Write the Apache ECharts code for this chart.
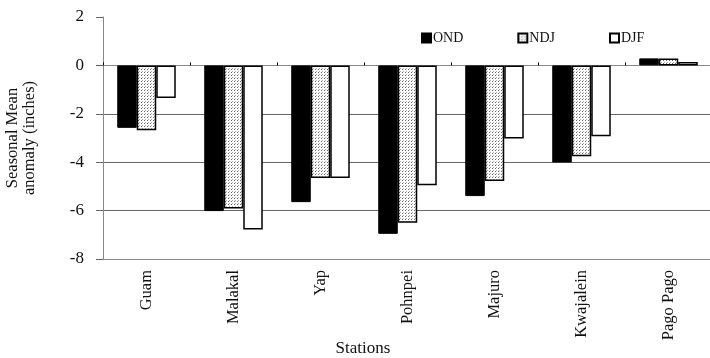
<!DOCTYPE html>
<html>
<head>
<meta charset="utf-8">
<script src="https://cdn.jsdelivr.net/npm/echarts@6/dist/echarts.min.js"></script>
<style>
  html, body { margin: 0; padding: 0; background: #fff; }
  #chart { width: 710px; height: 358px; }
</style>
</head>
<body>
<div id="chart"></div>
<script>
var stations = ['Guam', 'Malakal', 'Yap', 'Pohnpei', 'Majuro', 'Kwajalein', 'Pago Pago'];
var ond = [-2.58, -6.02, -5.65, -6.96, -5.4, -4.01, 0.29];
var ndj = [-2.68, -5.91, -4.65, -6.5, -4.78, -3.75, 0.29];
var djf = [-1.35, -6.78, -4.65, -4.95, -3.02, -2.93, 0.14];

// stipple fill for NDJ
function makeDots() {
	var c = document.createElement('canvas');
	c.width = 3; c.height = 3;
	var ctx = c.getContext('2d');
	ctx.fillStyle = '#fff';
	ctx.fillRect(0, 0, 3, 3);
	ctx.fillStyle = '#666';
	ctx.fillRect(0, 0, 1, 1);
	ctx.fillStyle = '#aaa';
	ctx.fillRect(1, 2, 1, 1);
	return c;
}
var dots = { image: makeDots(), repeat: 'repeat' };

var font = '"Liberation Serif", "Times New Roman", serif';
var chart = echarts.init(document.getElementById('chart'));

var option = {
	animation: false,
	textStyle: { fontFamily: font, color: '#111' },
	grid: { left: 103, top: 17, width: 609, height: 242, outerBoundsMode: 'none', containLabel: false },
	title: {
		text: 'Stations',
		left: 363, top: 340,
		padding: 0,
		textAlign: 'center',
		textStyle: { fontFamily: font, fontSize: 17, fontWeight: 'normal', color: '#111' }
	},
	legend: {
		left: 421, top: 31,
		padding: 0,
		itemWidth: 9, itemHeight: 9,
		itemGap: 54,
		icon: 'rect',
		textStyle: { fontFamily: font, fontSize: 14, color: '#111', padding: [0, 0, 0, -3] },
		data: ['OND', 'NDJ', 'DJF']
	},
	xAxis: [
		{
			type: 'category',
			data: stations,
			position: 'bottom',
			axisLine: { onZero: false, lineStyle: { color: '#888', width: 1 } },
			axisTick: { show: false },
			axisLabel: { rotate: 90, margin: 11, fontFamily: font, fontSize: 16.5, color: '#111' }
		},
		{
			type: 'category',
			data: stations,
			position: 'bottom',
			axisLine: { onZero: true, lineStyle: { color: '#888', width: 1 } },
			axisTick: { show: true, inside: true, length: 3, lineStyle: { color: '#000' } },
			axisLabel: { show: false }
		}
	],
	yAxis: {
		type: 'value',
		min: -8, max: 2, interval: 2,
		name: 'Seasonal Mean\nanomaly (inches)',
		nameLocation: 'middle',
		nameRotate: 90,
		nameGap: 65,
		nameTextStyle: { fontFamily: font, fontSize: 16.5, color: '#111', lineHeight: 17 },
		axisLine: { show: true, lineStyle: { color: '#888' } },
		axisTick: { show: true, length: 7, lineStyle: { color: '#666' } },
		axisLabel: { fontFamily: font, fontSize: 17, color: '#111', margin: 19 },
		splitLine: { show: true, showMinLine: false, showMaxLine: false, lineStyle: { color: '#666', width: 1 } }
	},
	series: [
		{
			name: 'OND', type: 'bar', data: ond, barWidth: 19.5, barGap: '0%',
			itemStyle: { color: '#000', borderColor: '#000', borderWidth: 1 }
		},
		{
			name: 'NDJ', type: 'bar', data: ndj, barWidth: 19.5, barGap: '0%',
			itemStyle: { color: dots, borderColor: '#000', borderWidth: 1.5 }
		},
		{
			name: 'DJF', type: 'bar', data: djf, barWidth: 19.5, barGap: '0%',
			itemStyle: { color: '#fff', borderColor: '#000', borderWidth: 1.5 }
		}
	]
};
chart.setOption(option);
</script>
</body>
</html>
